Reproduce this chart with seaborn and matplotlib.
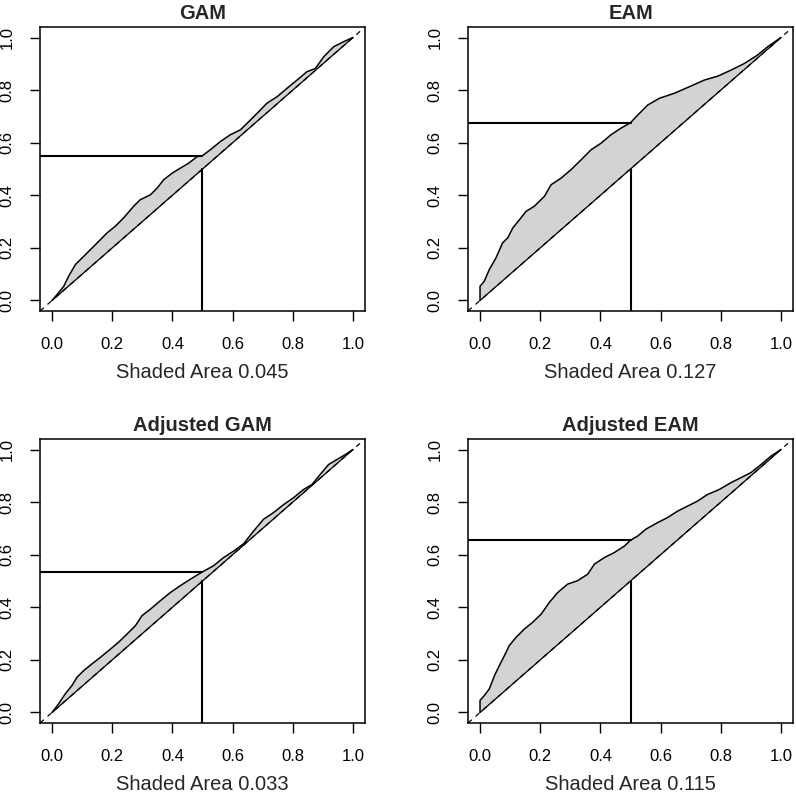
import numpy as np
import pandas as pd
import matplotlib
matplotlib.use("Agg")
import matplotlib.pyplot as plt
import seaborn as sns

gam_x = [0.0, 0.017, 0.039, 0.055, 0.078, 0.10, 0.122, 0.15, 0.183, 0.21, 0.238, 0.271,
         0.293, 0.327, 0.349, 0.371, 0.399, 0.426, 0.454, 0.482, 0.50, 0.526, 0.559,
         0.592, 0.626, 0.659, 0.692, 0.714, 0.748, 0.781, 0.814, 0.847, 0.875, 0.903,
         0.936, 0.969, 1.0]
gam_y = [0.0, 0.023, 0.054, 0.092, 0.137, 0.162, 0.187, 0.219, 0.257, 0.282, 0.314, 0.358,
         0.383, 0.402, 0.427, 0.459, 0.484, 0.503, 0.522, 0.547, 0.551, 0.573, 0.604,
         0.63, 0.649, 0.686, 0.724, 0.75, 0.775, 0.807, 0.838, 0.87, 0.882, 0.927,
         0.965, 0.984, 1.0]

eam_x = [0.0, 0.0, 0.014, 0.031, 0.053, 0.075, 0.092, 0.109, 0.131, 0.153, 0.18, 0.214,
         0.236, 0.269, 0.302, 0.336, 0.369, 0.402, 0.435, 0.468, 0.50, 0.524, 0.557,
         0.596, 0.646, 0.69, 0.745, 0.79, 0.834, 0.878, 0.922, 0.956, 1.0]
eam_y = [0.0, 0.054, 0.073, 0.118, 0.162, 0.219, 0.238, 0.276, 0.307, 0.339, 0.358, 0.396,
         0.44, 0.465, 0.497, 0.535, 0.573, 0.598, 0.63, 0.655, 0.676, 0.705, 0.743,
         0.769, 0.788, 0.81, 0.838, 0.853, 0.876, 0.901, 0.933, 0.965, 1.0]

adj_gam_x = [0.0, 0.022, 0.044, 0.066, 0.083, 0.105, 0.133, 0.161, 0.194, 0.221, 0.249,
             0.277, 0.299, 0.327, 0.36, 0.393, 0.426, 0.46, 0.50, 0.537, 0.57, 0.604,
             0.637, 0.67, 0.703, 0.736, 0.77, 0.803, 0.836, 0.864, 0.891, 0.919, 0.947,
             0.975, 1.0]
adj_gam_y = [0.0, 0.033, 0.071, 0.102, 0.134, 0.159, 0.185, 0.21, 0.241, 0.267, 0.298,
             0.33, 0.368, 0.393, 0.425, 0.456, 0.482, 0.507, 0.535, 0.558, 0.589, 0.614,
             0.642, 0.69, 0.735, 0.76, 0.791, 0.817, 0.848, 0.867, 0.905, 0.943, 0.962,
             0.981, 1.0]

adj_eam_x = [0.0, 0.0, 0.014, 0.031, 0.048, 0.064, 0.081, 0.097, 0.12, 0.147, 0.175, 0.203,
             0.23, 0.258, 0.291, 0.324, 0.358, 0.38, 0.413, 0.446, 0.48, 0.50, 0.524,
             0.551, 0.59, 0.623, 0.657, 0.69, 0.723, 0.756, 0.795, 0.834, 0.867, 0.90,
             0.934, 0.967, 1.0]
adj_eam_y = [0.0, 0.046, 0.064, 0.09, 0.14, 0.178, 0.216, 0.254, 0.286, 0.317, 0.343, 0.374,
             0.418, 0.456, 0.488, 0.501, 0.526, 0.564, 0.589, 0.608, 0.633, 0.655, 0.671,
             0.697, 0.722, 0.741, 0.766, 0.785, 0.804, 0.829, 0.848, 0.874, 0.893, 0.912,
             0.943, 0.975, 1.0]

titles = ["GAM", "EAM", "Adjusted GAM", "Adjusted EAM"]
areas = ["0.045", "0.127", "0.033", "0.115"]
ticks = [0.0, 0.2, 0.4, 0.6, 0.8, 1.0]

panels = [(gam_x, gam_y), (eam_x, eam_y), (adj_gam_x, adj_gam_y), (adj_eam_x, adj_eam_y)]

sns.set_style("ticks")
plt.rcParams['font.family'] = ['Liberation Sans', 'DejaVu Sans']

fig = plt.figure(figsize=(7.96, 7.99), dpi=100)
W, H = 796, 799
boxes = [(40, 27), (468, 27), (40, 439), (468, 439)]  # left, top in px
bw, bh = 325, 284

for i, ((xs, ys), title, area) in enumerate(zip(panels, titles, areas)):
    left, top = boxes[i]
    ax = fig.add_axes([left / W, 1 - (top + bh) / H, bw / W, bh / H])
    df = pd.DataFrame({'x': xs, 'y': ys})
    lo, hi = -0.04, 1.04

    ax.fill_between(df['x'], df['x'], df['y'], color='#D3D3D3', lw=0, zorder=1)
    sns.lineplot(data=df, x='x', y='y', sort=False, estimator=None,
                 color='black', lw=1.1, ax=ax, zorder=3)
    ax.plot([0, 1], [0, 1], color='black', lw=0.9, zorder=3)
    ax.plot([lo, hi], [lo, hi], color='black', lw=0.9, ls=(0, (4, 4)), zorder=2)

    v = np.interp(0.5, df['x'].iloc[1:] if df['x'].iloc[1] == 0 else df['x'],
                  df['y'].iloc[1:] if df['x'].iloc[1] == 0 else df['y'])
    ax.plot([0.5, 0.5], [lo, 0.5], color='black', lw=1.5, zorder=4)
    ax.plot([lo, 0.5], [v, v], color='black', lw=1.5, zorder=4)

    ax.set_xlim(lo, hi)
    ax.set_ylim(lo, hi)
    ax.set_xticks(ticks)
    ax.set_yticks(ticks)
    ax.set_xticklabels([f"{t:.1f}" for t in ticks])
    ax.set_yticklabels([f"{t:.1f}" for t in ticks], rotation=90, va='center')
    ax.tick_params(axis='both', length=7.5, width=1.0, color='black',
                   labelsize=12, pad=11, labelcolor='black')
    for s in ax.spines.values():
        s.set_visible(True)
        s.set_color('black')
        s.set_linewidth(1.1)
    ax.set_title(title, fontsize=14.5, fontweight='bold', pad=6)
    ax.set_xlabel(f"Shaded Area {area}", fontsize=14.5, labelpad=8)
    ax.set_ylabel("")

fig.savefig("out.png", dpi=100, facecolor='white')
